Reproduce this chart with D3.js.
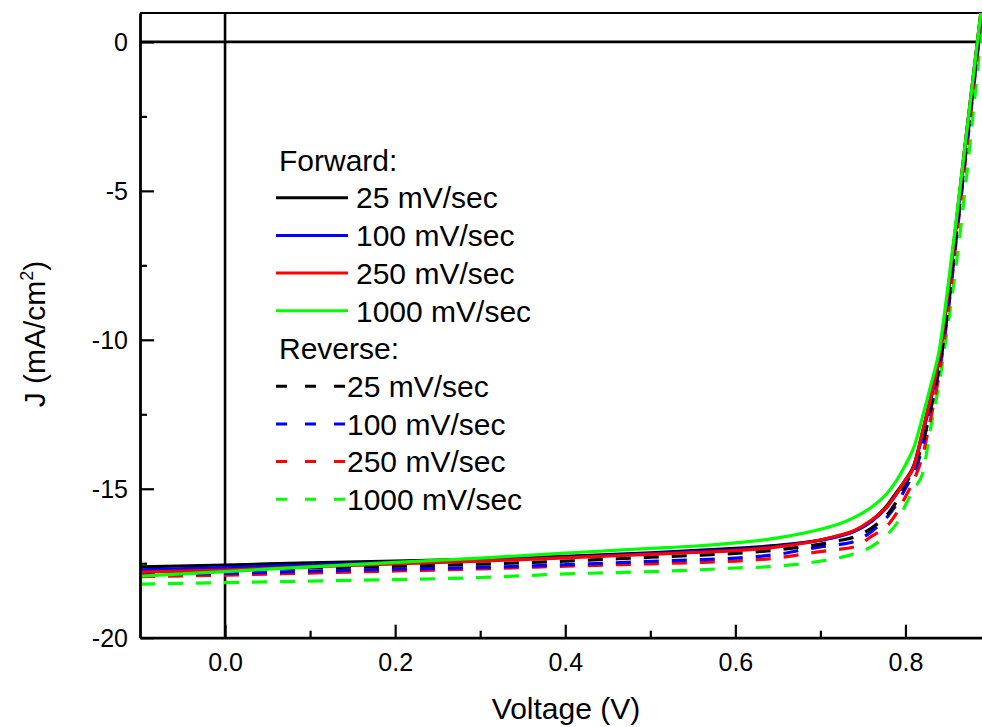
<!DOCTYPE html>
<html>
<head>
<meta charset="utf-8">
<script src="https://cdn.jsdelivr.net/npm/d3@7"></script>
<style>
  body { margin: 0; background: #fff; }
  svg { display: block; font-family: "Liberation Sans", Arial, sans-serif; }
</style>
</head>
<body>
<svg width="982" height="727"></svg>
<script>
// voltage grid (V) shared by all sweeps
var voltage = [-0.1, 0, 0.1, 0.2, 0.3, 0.4, 0.5, 0.55, 0.6, 0.65, 0.7, 0.72, 0.74, 0.76, 0.78, 0.79, 0.8, 0.81, 0.82, 0.83, 0.84, 0.85, 0.86, 0.87, 0.88, 0.89];

// forward sweeps, J in mA/cm2
var fwd25 = [-17.62, -17.56, -17.49, -17.43, -17.36, -17.27, -17.15, -17.08, -17.0, -16.9, -16.72, -16.6, -16.42, -16.08, -15.5, -15.1, -14.7, -14.2, -13.1, -11.9, -10.5, -8.4, -6.0, -3.5, -1.1, 1.3];
var fwd100 = [-17.72, -17.65, -17.56, -17.48, -17.4, -17.3, -17.18, -17.11, -17.04, -16.93, -16.73, -16.61, -16.43, -16.1, -15.55, -15.15, -14.75, -14.25, -13.2, -12.0, -10.6, -8.5, -6.1, -3.6, -1.2, 1.2];
var fwd250 = [-17.8, -17.73, -17.62, -17.52, -17.43, -17.32, -17.2, -17.14, -17.08, -16.95, -16.72, -16.58, -16.4, -16.05, -15.55, -15.15, -14.7, -14.25, -13.1, -11.9, -10.5, -8.4, -6.0, -3.5, -1.1, 1.3];
var fwd1000 = [-17.93, -17.78, -17.62, -17.47, -17.33, -17.16, -17.0, -16.93, -16.82, -16.65, -16.36, -16.2, -15.96, -15.62, -15.1, -14.7, -14.2, -13.6, -12.6, -11.5, -10.3, -8.2, -5.9, -3.5, -1.1, 1.3];

// reverse sweeps
var rev25 = [-17.8, -17.72, -17.66, -17.6, -17.53, -17.43, -17.3, -17.24, -17.17, -17.05, -16.86, -16.75, -16.62, -16.32, -15.82, -15.4, -14.85, -14.3, -13.5, -12.3, -10.9, -8.9, -6.4, -3.9, -1.4, 1.1];
var rev100 = [-17.88, -17.84, -17.77, -17.7, -17.64, -17.55, -17.44, -17.39, -17.33, -17.2, -16.95, -16.88, -16.77, -16.44, -15.9, -15.5, -14.99, -14.45, -13.6, -12.1, -10.9, -9.0, -6.5, -4.0, -1.5, 1.0];
var rev250 = [-17.95, -17.9, -17.83, -17.76, -17.69, -17.6, -17.52, -17.48, -17.43, -17.32, -17.11, -17.04, -16.95, -16.6, -16.2, -15.8, -15.27, -14.7, -13.9, -12.6, -11.1, -9.1, -6.6, -4.1, -1.6, 0.9];
var rev1000 = [-18.2, -18.15, -18.1, -18.05, -17.98, -17.86, -17.78, -17.73, -17.66, -17.6, -17.43, -17.33, -17.18, -16.94, -16.5, -16.15, -15.55, -15.0, -14.5, -12.9, -11.4, -9.5, -7.4, -5.0, -2.3, 0.5];

var rateLabels = ["25 mV/sec", "100 mV/sec", "250 mV/sec", "1000 mV/sec"];
var xTicks = [0, 0.2, 0.4, 0.6, 0.8];
var xMinor = [0.1, 0.3, 0.5, 0.7];
var yTicks = [0, -5, -10, -15, -20];
var yMinor = [-2.5, -7.5, -12.5, -17.5];

var colors = ["#000000", "#0000ff", "#ff0000", "#00ff00"];
var forward = [fwd25, fwd100, fwd250, fwd1000];
var reverse = [rev25, rev100, rev250, rev1000];

var svg = d3.select("svg");
var plotL = 140, plotR = 982, plotT = 13, plotB = 637.7;

var x = d3.scaleLinear().domain([-0.1, 0.89]).range([plotL, plotR]);
var y = d3.scaleLinear().domain([-20, 0.97]).range([plotB, plotT]);

svg.append("rect").attr("width", 982).attr("height", 727).attr("fill", "#fff");

svg.append("clipPath").attr("id", "plot")
  .append("rect").attr("x", plotL).attr("y", plotT)
  .attr("width", plotR - plotL).attr("height", plotB - plotT);

// zero lines
svg.append("line")
  .attr("x1", x(0)).attr("x2", x(0)).attr("y1", plotT).attr("y2", plotB)
  .attr("stroke", "#000").attr("stroke-width", 2.6);
svg.append("line")
  .attr("x1", plotL).attr("x2", plotR).attr("y1", y(0)).attr("y2", y(0))
  .attr("stroke", "#000").attr("stroke-width", 2.6);

// top frame line
svg.append("line")
  .attr("x1", plotL).attr("x2", plotR).attr("y1", plotT).attr("y2", plotT)
  .attr("stroke", "#000").attr("stroke-width", 2.2);

var line = d3.line()
  .x(function(d, i) { return x(voltage[i]); })
  .y(function(d) { return y(d); })
  .curve(d3.curveMonotoneX);

var curves = svg.append("g").attr("clip-path", "url(#plot)");

// reverse (dashed) first, then forward (solid)
[3, 2, 1, 0].forEach(function(i) {
  curves.append("path")
    .attr("d", line(reverse[i]))
    .attr("fill", "none")
    .attr("stroke", colors[i])
    .attr("stroke-width", 3.2)
    .attr("stroke-dasharray", "15,13");
});
[0, 1, 2, 3].forEach(function(i) {
  curves.append("path")
    .attr("d", line(forward[i]))
    .attr("fill", "none")
    .attr("stroke", colors[i])
    .attr("stroke-width", 3.2);
});

// axes
svg.append("g")
  .attr("transform", "translate(0," + plotB + ")")
  .call(d3.axisBottom(x).tickValues(xTicks).tickSizeInner(-13).tickSizeOuter(0)
    .tickPadding(16).tickFormat(d3.format(".1f")));
svg.append("g")
  .attr("transform", "translate(0," + plotB + ")")
  .call(d3.axisBottom(x).tickValues(xMinor).tickSizeInner(-7).tickSizeOuter(0).tickFormat(""))
  .select(".domain").remove();

var yAxis = svg.append("g")
  .attr("transform", "translate(" + plotL + ",0)")
  .call(d3.axisLeft(y).tickValues(yTicks).tickSizeInner(-14).tickSizeOuter(0)
    .tickPadding(12).tickFormat(function(d) { return String(d); }));
svg.append("g")
  .attr("transform", "translate(" + plotL + ",0)")
  .call(d3.axisLeft(y).tickValues(yMinor).tickSizeInner(-7).tickSizeOuter(0).tickFormat(""))
  .select(".domain").remove();

svg.selectAll(".domain").attr("stroke-width", 2.8);
svg.selectAll(".tick line").attr("stroke-width", 2.2);
svg.selectAll(".tick text")
  .attr("font-size", 25)
  .attr("font-family", "Liberation Sans, Arial, sans-serif")
  .attr("fill", "#000");
yAxis.selectAll(".tick text").attr("dy", "0.35em");

// axis titles
svg.append("text")
  .attr("x", 566).attr("y", 719)
  .attr("text-anchor", "middle")
  .attr("font-size", 30)
  .text("Voltage (V)");

var yt = svg.append("text")
  .attr("transform", "translate(45,334) rotate(-90)")
  .attr("text-anchor", "middle")
  .attr("font-size", 30);
yt.append("tspan").text("J (mA/cm");
yt.append("tspan").attr("font-size", 18).attr("dy", -12).text("2");
yt.append("tspan").attr("dy", 12).text(")");

// legend
var legend = svg.append("g").attr("font-size", 30);
var rowY = function(r) { return 160 + r * 37.7; };

legend.append("text").attr("x", 279).attr("y", rowY(0) + 10.7).text("Forward:");
rateLabels.forEach(function(lbl, i) {
  var yy = rowY(1 + i);
  legend.append("line")
    .attr("x1", 276).attr("x2", 348).attr("y1", yy).attr("y2", yy)
    .attr("stroke", colors[i]).attr("stroke-width", 3);
  legend.append("text").attr("x", 356).attr("y", yy + 10.7).text(lbl);
});

legend.append("text").attr("x", 279).attr("y", rowY(5) + 10.7).text("Reverse:");
rateLabels.forEach(function(lbl, i) {
  var yy = rowY(6 + i);
  legend.append("line")
    .attr("x1", 276).attr("x2", 348).attr("y1", yy).attr("y2", yy)
    .attr("stroke", colors[i]).attr("stroke-width", 3)
    .attr("stroke-dasharray", "11,18");
  legend.append("text").attr("x", 347).attr("y", yy + 10.7).text(lbl);
});
</script>
</body>
</html>
